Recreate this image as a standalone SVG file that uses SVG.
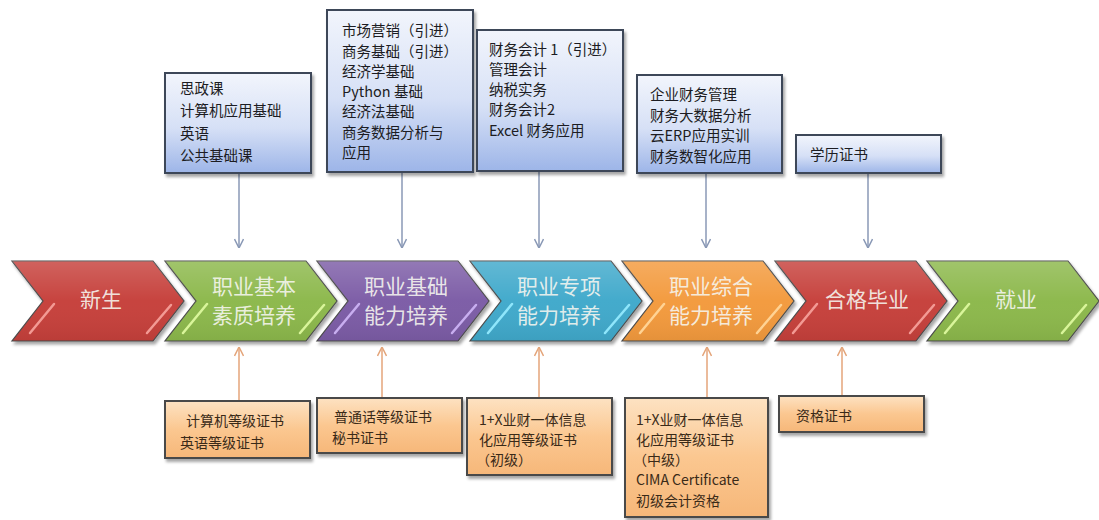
<svg xmlns="http://www.w3.org/2000/svg" width="1099" height="520" viewBox="0 0 1099 520">
<style>
.ct{font-family:"Noto Sans CJK SC","Noto Sans",sans-serif;font-size:21px;fill:#f6f6f0;fill-opacity:0.9;text-anchor:middle}
.tt{font-family:"Noto Sans CJK SC","Noto Sans",sans-serif;font-size:14.5px;fill:#1c1c22}
.bt{font-family:"Noto Sans CJK SC","Noto Sans",sans-serif;font-size:14px;fill:#3a2a18}
.tb{fill:url(#blueG);stroke:#3e4758;stroke-width:2;filter:url(#sh)}
.bb{fill:url(#peachG);stroke:#4a4a4a;stroke-width:2;filter:url(#sh)}
.chev{stroke:#4b4b4b;stroke-width:1.2;filter:url(#sh)}
.hl{stroke-width:2.5;stroke-linecap:round;fill:none}
.up{stroke:#8a99b6;stroke-width:1.5;fill:none}
.dn{stroke:#e4a57a;stroke-width:1.5;fill:none}
</style>
<defs>
<filter id="sh" x="-10%" y="-10%" width="125%" height="135%">
<feDropShadow dx="2" dy="3" stdDeviation="1.8" flood-color="#000" flood-opacity="0.35"/>
</filter>
<linearGradient id="blueG" x1="0" y1="0" x2="0" y2="1">
<stop offset="0" stop-color="#f2f5fc"/>
<stop offset="0.55" stop-color="#d6e0f6"/>
<stop offset="1" stop-color="#9db5e8"/>
</linearGradient>
<linearGradient id="peachG" x1="0" y1="0" x2="0" y2="1">
<stop offset="0" stop-color="#fde2c2"/>
<stop offset="0.5" stop-color="#fbc790"/>
<stop offset="1" stop-color="#f6b779"/>
</linearGradient>
<linearGradient id="gloss" x1="0" y1="0" x2="0" y2="1">
<stop offset="0" stop-color="#fff" stop-opacity="0.18"/>
<stop offset="0.5" stop-color="#fff" stop-opacity="0.02"/>
<stop offset="1" stop-color="#000" stop-opacity="0.06"/>
</linearGradient>
<marker id="aBlue" viewBox="0 0 10 10" refX="10" refY="5" markerWidth="10" markerHeight="10" markerUnits="userSpaceOnUse" orient="auto">
<path d="M1,0.5 L10,5 L1,9.5" fill="none" stroke="#8a99b6" stroke-width="1.5"/>
</marker>
<marker id="aOrange" viewBox="0 0 10 10" refX="10" refY="5" markerWidth="10" markerHeight="10" markerUnits="userSpaceOnUse" orient="auto">
<path d="M1,0.5 L10,5 L1,9.5" fill="none" stroke="#e4a57a" stroke-width="1.5"/>
</marker>
<path id="chv" d="M0,261 L141,261 L172,301 L141,341 L0,341 L31,301 Z"/>
</defs>

<g id="connectors">
<line class="up" x1="239" y1="174" x2="239" y2="248" marker-end="url(#aBlue)"/>
<line class="up" x1="402" y1="173" x2="402" y2="248" marker-end="url(#aBlue)"/>
<line class="up" x1="539" y1="172" x2="539" y2="248" marker-end="url(#aBlue)"/>
<line class="up" x1="706" y1="174" x2="706" y2="248" marker-end="url(#aBlue)"/>
<line class="up" x1="868" y1="174" x2="868" y2="248" marker-end="url(#aBlue)"/>
<line class="dn" x1="239" y1="400" x2="239" y2="347" marker-end="url(#aOrange)"/>
<line class="dn" x1="382" y1="397" x2="382" y2="347" marker-end="url(#aOrange)"/>
<line class="dn" x1="539" y1="397" x2="539" y2="347" marker-end="url(#aOrange)"/>
<line class="dn" x1="707" y1="397" x2="707" y2="347" marker-end="url(#aOrange)"/>
<line class="dn" x1="842" y1="395" x2="842" y2="347" marker-end="url(#aOrange)"/>
</g>

<g id="stage1" transform="translate(12,0)">
<use href="#chv" class="chev" fill="#c63f3b"/><use href="#chv" fill="url(#gloss)"/>
<path class="hl" stroke="#f39a94" d="M18,333 L42,304 M135,333 L159,305"/>
<text class="ct" x="89" y="307">新生</text>
</g>
<g id="stage2" transform="translate(165,0)">
<use href="#chv" class="chev" fill="#8cb84b"/><use href="#chv" fill="url(#gloss)"/>
<path class="hl" stroke="#d9f59a" d="M18,333 L42,304 M135,333 L159,305"/>
<text class="ct" x="89" y="294">职业基本</text>
<text class="ct" x="89" y="323">素质培养</text>
</g>
<g id="stage3" transform="translate(317,0)">
<use href="#chv" class="chev" fill="#7c5ca6"/><use href="#chv" fill="url(#gloss)"/>
<path class="hl" stroke="#c8aef0" d="M18,333 L42,304 M135,333 L159,305"/>
<text class="ct" x="89" y="294">职业基础</text>
<text class="ct" x="89" y="323">能力培养</text>
</g>
<g id="stage4" transform="translate(470,0)">
<use href="#chv" class="chev" fill="#3fa9cb"/><use href="#chv" fill="url(#gloss)"/>
<path class="hl" stroke="#8fe6fb" d="M18,333 L42,304 M135,333 L159,305"/>
<text class="ct" x="89" y="294">职业专项</text>
<text class="ct" x="89" y="323">能力培养</text>
</g>
<g id="stage5" transform="translate(622,0)">
<use href="#chv" class="chev" fill="#f39a3c"/><use href="#chv" fill="url(#gloss)"/>
<path class="hl" stroke="#ffd394" d="M18,333 L42,304 M135,333 L159,305"/>
<text class="ct" x="89" y="294">职业综合</text>
<text class="ct" x="89" y="323">能力培养</text>
</g>
<g id="stage6" transform="translate(775,0)">
<use href="#chv" class="chev" fill="#c63f3b"/><use href="#chv" fill="url(#gloss)"/>
<path class="hl" stroke="#f39a94" d="M18,333 L42,304 M135,333 L159,305"/>
<text class="ct" x="92" y="307">合格毕业</text>
</g>
<g id="stage7" transform="translate(927,0)">
<use href="#chv" class="chev" fill="#8cb84b"/><use href="#chv" fill="url(#gloss)"/>
<path class="hl" stroke="#d9f59a" d="M18,333 L42,304 M135,333 L159,305"/>
<text class="ct" x="89" y="307">就业</text>
</g>

<g id="course1">
<rect class="tb" x="165" y="73" width="146" height="100"/>
<text class="tt" x="180" y="94">思政课</text>
<text class="tt" x="180" y="116">计算机应用基础</text>
<text class="tt" x="180" y="139">英语</text>
<text class="tt" x="180" y="161">公共基础课</text>
</g>
<g id="course2">
<rect class="tb" x="327" y="10" width="146" height="162"/>
<text class="tt" x="342" y="36">市场营销（引进）</text>
<text class="tt" x="342" y="57">商务基础（引进）</text>
<text class="tt" x="342" y="77">经济学基础</text>
<text class="tt" x="342" y="97">Python 基础</text>
<text class="tt" x="342" y="117">经济法基础</text>
<text class="tt" x="342" y="138">商务数据分析与</text>
<text class="tt" x="342" y="158">应用</text>
</g>
<g id="course3">
<rect class="tb" x="477" y="30" width="146" height="141"/>
<text class="tt" x="489" y="55">财务会计 1（引进）</text>
<text class="tt" x="489" y="75">管理会计</text>
<text class="tt" x="489" y="95">纳税实务</text>
<text class="tt" x="489" y="115">财务会计2</text>
<text class="tt" x="489" y="136">Excel 财务应用</text>
</g>
<g id="course4">
<rect class="tb" x="637" y="75" width="145" height="98"/>
<text class="tt" x="650" y="100">企业财务管理</text>
<text class="tt" x="650" y="121">财务大数据分析</text>
<text class="tt" x="650" y="141">云ERP应用实训</text>
<text class="tt" x="650" y="162">财务数智化应用</text>
</g>
<g id="course5">
<rect class="tb" x="796" y="135" width="145" height="38"/>
<text class="tt" x="810" y="160">学历证书</text>
</g>

<g id="cert1">
<rect class="bb" x="165" y="401" width="145" height="57"/>
<text class="bt" x="186" y="426">计算机等级证书</text>
<text class="bt" x="180" y="448">英语等级证书</text>
</g>
<g id="cert2">
<rect class="bb" x="317" y="398" width="145" height="55"/>
<text class="bt" x="334" y="422">普通话等级证书</text>
<text class="bt" x="332" y="443">秘书证书</text>
</g>
<g id="cert3">
<rect class="bb" x="467" y="398" width="145" height="77"/>
<text class="bt" x="479" y="425">1+X业财一体信息</text>
<text class="bt" x="479" y="445">化应用等级证书</text>
<text class="bt" x="476" y="465">（初级）</text>
</g>
<g id="cert4">
<rect class="bb" x="625" y="398" width="143" height="119"/>
<text class="bt" x="636" y="425">1+X业财一体信息</text>
<text class="bt" x="636" y="445">化应用等级证书</text>
<text class="bt" x="633" y="465">（中级）</text>
<text class="bt" x="636" y="485">CIMA  Certificate</text>
<text class="bt" x="636" y="506">初级会计资格</text>
</g>
<g id="cert5">
<rect class="bb" x="779" y="396" width="145" height="36"/>
<text class="bt" x="796" y="421">资格证书</text>
</g>
</svg>
